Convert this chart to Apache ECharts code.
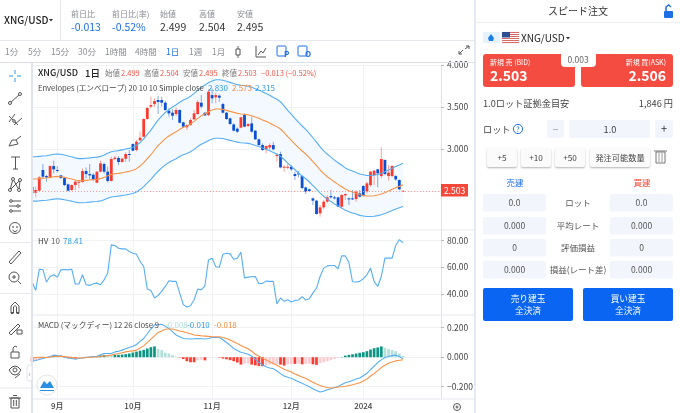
<!DOCTYPE html>
<html><head><meta charset="utf-8">
<style>html,body{margin:0;padding:0;background:#fff}#c{width:680px;height:413px}</style>
<script src="https://cdn.jsdelivr.net/npm/echarts@6/dist/echarts.min.js"></script>
</head><body><div id="c"></div>
<script>
const opens=[2.551,2.48,2.504,2.75,2.678,2.662,2.797,2.75,2.686,2.654,2.579,2.512,2.571,2.599,2.607,2.738,2.702,2.694,2.599,2.73,2.821,2.73,2.619,2.881,2.893,2.845,2.885,2.94,3.059,2.988,3.103,3.146,3.357,3.504,3.535,3.583,3.583,3.551,3.456,3.432,3.416,3.464,3.317,3.258,3.285,3.353,3.416,3.551,3.432,3.404,3.642,3.615,3.635,3.535,3.432,3.365,3.293,3.242,3.254,3.404,3.273,3.305,3.218,3.115,3.047,2.996,3.019,3.047,2.916,2.94,2.781,2.777,2.789,2.702,2.71,2.678,2.543,2.52,2.412,2.385,2.234,2.305,2.373,2.44,2.424,2.424,2.313,2.448,2.412,2.412,2.404,2.472,2.559,2.492,2.571,2.69,2.758,2.678,2.869,2.678,2.678,2.678,2.631,2.499];
const highs=[2.571,2.551,2.678,2.821,2.69,2.805,2.861,2.797,2.694,2.662,2.591,2.579,2.631,2.631,2.769,2.781,2.821,2.71,2.738,2.861,2.837,2.789,2.908,2.92,2.916,2.897,2.96,2.988,3.067,3.107,3.206,3.365,3.504,3.623,3.603,3.631,3.623,3.575,3.484,3.472,3.496,3.472,3.325,3.293,3.365,3.464,3.583,3.642,3.44,3.71,3.722,3.67,3.65,3.551,3.44,3.373,3.305,3.258,3.385,3.424,3.309,3.385,3.226,3.123,3.067,3.04,3.067,3.087,2.948,2.968,2.809,2.821,2.809,2.73,2.738,2.69,2.551,2.531,2.424,2.393,2.333,2.393,2.452,2.512,2.44,2.432,2.464,2.472,2.424,2.512,2.512,2.512,2.571,2.611,2.742,2.75,2.766,3.019,2.877,2.809,2.809,2.69,2.638,2.504];
const lows=[2.452,2.424,2.496,2.65,2.61,2.65,2.71,2.718,2.646,2.559,2.496,2.5,2.512,2.531,2.599,2.65,2.638,2.623,2.591,2.722,2.71,2.599,2.611,2.869,2.809,2.837,2.845,2.849,2.972,2.972,3.095,3.138,3.349,3.484,3.504,3.416,3.504,3.456,3.385,3.345,3.392,3.305,3.25,3.226,3.277,3.345,3.408,3.484,3.392,3.392,3.543,3.543,3.563,3.424,3.345,3.29,3.211,3.19,3.246,3.258,3.262,3.194,3.107,3.04,2.976,2.948,2.988,2.984,2.849,2.77,2.73,2.758,2.742,2.631,2.662,2.523,2.464,2.488,2.333,2.218,2.194,2.281,2.353,2.412,2.4,2.305,2.293,2.393,2.333,2.393,2.373,2.424,2.432,2.472,2.551,2.571,2.543,2.651,2.686,2.623,2.662,2.623,2.512,2.495];
const closes=[2.472,2.512,2.662,2.67,2.662,2.797,2.758,2.742,2.654,2.571,2.504,2.571,2.611,2.611,2.738,2.702,2.686,2.631,2.73,2.829,2.73,2.619,2.881,2.897,2.845,2.885,2.94,2.932,2.98,3.087,3.135,3.357,3.488,3.523,3.571,3.559,3.551,3.464,3.424,3.396,3.464,3.313,3.266,3.285,3.345,3.424,3.559,3.504,3.4,3.682,3.603,3.642,3.611,3.432,3.357,3.297,3.218,3.206,3.377,3.266,3.297,3.206,3.115,3.047,2.988,3.035,3.047,2.996,2.928,2.781,2.789,2.789,2.758,2.678,2.702,2.535,2.492,2.5,2.385,2.226,2.305,2.373,2.424,2.424,2.412,2.313,2.452,2.464,2.4,2.404,2.492,2.432,2.44,2.591,2.73,2.742,2.71,2.881,2.702,2.718,2.797,2.638,2.52,2.503];
const envMid=[2.643,2.643,2.647,2.651,2.654,2.662,2.67,2.674,2.67,2.662,2.651,2.643,2.631,2.623,2.623,2.627,2.631,2.635,2.639,2.647,2.662,2.682,2.698,2.706,2.71,2.718,2.726,2.734,2.746,2.766,2.797,2.837,2.885,2.932,2.988,3.039,3.083,3.123,3.154,3.182,3.206,3.234,3.258,3.273,3.297,3.329,3.365,3.396,3.42,3.444,3.464,3.476,3.476,3.472,3.46,3.448,3.436,3.424,3.416,3.412,3.408,3.396,3.38,3.365,3.345,3.329,3.309,3.285,3.266,3.238,3.194,3.146,3.103,3.059,3.016,2.976,2.94,2.897,2.849,2.801,2.75,2.706,2.67,2.639,2.607,2.579,2.551,2.523,2.504,2.488,2.472,2.456,2.448,2.44,2.44,2.444,2.452,2.464,2.48,2.5,2.52,2.539,2.555,2.573];
const envUpper=[2.907,2.907,2.912,2.916,2.919,2.928,2.937,2.941,2.937,2.928,2.916,2.907,2.894,2.885,2.885,2.89,2.894,2.899,2.903,2.912,2.928,2.95,2.968,2.977,2.981,2.99,2.999,3.007,3.021,3.043,3.077,3.121,3.174,3.225,3.287,3.343,3.391,3.435,3.469,3.5,3.527,3.557,3.584,3.6,3.627,3.662,3.702,3.736,3.762,3.788,3.81,3.824,3.824,3.819,3.806,3.793,3.78,3.766,3.758,3.753,3.749,3.736,3.718,3.702,3.68,3.662,3.64,3.614,3.593,3.562,3.513,3.461,3.413,3.365,3.318,3.274,3.234,3.187,3.134,3.081,3.025,2.977,2.937,2.903,2.868,2.837,2.806,2.775,2.754,2.737,2.719,2.702,2.693,2.684,2.684,2.688,2.697,2.71,2.728,2.75,2.772,2.793,2.81,2.83];
const envLower=[2.379,2.379,2.382,2.386,2.389,2.396,2.403,2.407,2.403,2.396,2.386,2.379,2.368,2.361,2.361,2.364,2.368,2.372,2.375,2.382,2.396,2.414,2.428,2.435,2.439,2.446,2.453,2.461,2.471,2.489,2.517,2.553,2.597,2.639,2.689,2.735,2.775,2.811,2.839,2.864,2.885,2.911,2.932,2.946,2.967,2.996,3.029,3.056,3.078,3.1,3.118,3.128,3.128,3.125,3.114,3.103,3.092,3.082,3.074,3.071,3.067,3.056,3.042,3.029,3.011,2.996,2.978,2.957,2.939,2.914,2.875,2.831,2.793,2.753,2.714,2.678,2.646,2.607,2.564,2.521,2.475,2.435,2.403,2.375,2.346,2.321,2.296,2.271,2.254,2.239,2.225,2.21,2.203,2.196,2.196,2.2,2.207,2.218,2.232,2.25,2.268,2.285,2.3,2.315];
const hv=[48.8,42.5,58.5,58.3,48.8,53,54.3,52.5,58,58.3,58,58.5,47.3,47.3,54.3,46.8,46.3,47.5,48,46.8,50.5,55.5,76.8,76.3,74.3,73.8,73.8,71.8,70.5,69.8,64.3,60.5,43.5,42.5,36.8,38.8,41.8,45.5,49.8,49.3,49.3,40.5,31.8,30,31,35.5,43.5,43,46,65.5,66.8,60.5,59.8,69.8,70.5,70,66,66.8,71.3,51.8,52.5,52.8,53,47.5,47.8,49.5,49.3,49.3,32.3,36.8,34.3,35.5,33.8,35,35.3,37.8,35.3,36.3,40.5,44.3,53,59.3,61,61.3,61.3,58.8,68.5,68.5,63.5,49,48.8,49.3,51.3,54.3,59.3,49.3,45.5,53,66.8,66.8,66.8,76.3,80.8,78.41];
const macd=[-.027,-.022,-.016,-.009,-.002,.005,.014,.011,.009,.002,-.005,-.009,-.014,-.009,-.005,-.001,.002,.005,.007,.016,.025,.025,.025,.036,.041,.048,.057,.066,.075,.086,.107,.127,.159,.191,.218,.22,.223,.209,.195,.173,.15,.139,.127,.125,.123,.125,.127,.125,.123,.127,.134,.134,.134,.118,.1,.08,.059,.045,.034,.027,.02,.007,-.014,-.036,-.052,-.064,-.073,-.077,-.093,-.111,-.127,-.136,-.143,-.155,-.166,-.177,-.189,-.2,-.214,-.225,-.236,-.23,-.22,-.214,-.205,-.198,-.184,-.173,-.166,-.157,-.148,-.141,-.125,-.109,-.084,-.061,-.036,-.018,-.002,.005,.011,.014,.005,-.01];
const signal=[-.005,-.002,0,-.001,-.002,.001,.005,.006,.007,.005,.002,-.001,-.005,-.005,-.005,-.002,0,.001,.002,.005,.009,.011,.014,.02,.025,.03,.036,.041,.043,.048,.063,.077,.1,.123,.145,.168,.178,.189,.191,.191,.184,.177,.172,.166,.159,.151,.148,.145,.143,.141,.139,.139,.139,.133,.127,.116,.105,.093,.08,.068,.057,.041,.02,.007,-.007,-.018,-.03,-.043,-.055,-.068,-.082,-.091,-.1,-.114,-.123,-.134,-.143,-.157,-.17,-.182,-.191,-.2,-.205,-.209,-.207,-.202,-.2,-.198,-.191,-.186,-.18,-.173,-.161,-.148,-.127,-.111,-.091,-.07,-.055,-.041,-.032,-.025,-.02,-.018];
const hist=[-.03,-.022,-.016,-.008,0,.004,.009,.006,.002,-.003,-.007,-.008,-.009,-.004,-.002,.001,.002,.004,.005,.011,.016,.014,.011,.016,.016,.018,.021,.025,.032,.038,.044,.05,.059,.068,.073,.055,.048,.03,.025,.014,.005,-.002,-.012,-.027,-.034,-.034,-.02,-.017,-.021,-.002,-.001,0,-.003,-.009,-.014,-.02,-.027,-.036,-.05,-.043,-.042,-.05,-.055,-.059,-.061,-.055,-.05,-.048,-.045,-.05,-.057,-.048,-.045,-.045,-.043,-.048,-.045,-.043,-.048,-.052,-.041,-.034,-.027,-.018,-.011,-.005,.002,.011,.016,.02,.025,.03,.034,.041,.052,.061,.066,.073,.064,.055,.048,.041,.025,.008];
const monthTickIndex=[7,28,50,72,92];
const monthTickLabel=['9月','10月','11月','12月','2024'];
const lastPrice=2.503;
const priceTicks=[3,3.5,4];
const hvTicks=[40,60,80];
const macdTicks=[-0.2,0,0.2];

const F='"Noto Sans CJK JP","Noto Sans",sans-serif';
const RED='#fa3a2e',BLUE='#0b4fd2',LINE='#55aef3',ORG='#fa9246';
const at=a=>a.map((v,i)=>[i,v]);
const g=[];
const T=(x,y,t,o={})=>g.push({type:'text',z:o.z||105,x,y,silent:true,style:{text:t,fill:o.c||'#333',font:(o.w||'400')+' '+(o.s||9)+'px '+F,textAlign:o.a||'left',textVerticalAlign:'middle',textBaseline:'middle'}});
const R=(x,y,w,h,f,o={})=>g.push({type:'rect',z:o.z||99,silent:true,shape:{x,y,width:w,height:h,r:o.r||0},style:{fill:f,stroke:o.st||null,lineWidth:o.lw||1,shadowColor:o.sh||'transparent',shadowBlur:o.sh?2:0,shadowOffsetY:o.sh?1:0}});
const L=(a,b,c,d,s='#e6e8ee',w=1)=>g.push({type:'line',z:100,silent:true,shape:{x1:a,y1:b,x2:c,y2:d},style:{stroke:s,lineWidth:w}});
const C=(x,y,r,o={})=>g.push({type:'circle',z:100,silent:true,shape:{cx:x,cy:y,r},style:{fill:o.f||'transparent',stroke:o.st||'#444',lineWidth:o.lw||1}});
const P=(pts,s='#444',w=1,fill)=>g.push({type:fill?'polygon':'polyline',z:100,silent:true,shape:{points:pts},style:fill?{fill}:{stroke:s,lineWidth:w,fill:'transparent'}});

// frames
L(0,40.5,475,40.5);L(60.5,0,60.5,40);
L(0,62.5,475,62.5,'#dcdfe8',1.2);
L(32,63,32,413,'#dfe3ee',2);
L(475,0,475,413,'#e4e9f4',2);
L(33,230,441,230,'#e6e8ee',1.2);L(33,315,441,315,'#e6e8ee',1.2);L(33,399,441,399,'#e6e8ee',1.2);
L(441,230,475,230,'#e6e8ee',1);L(441,315,475,315,'#e6e8ee',1);L(441,399,475,399,'#e6e8ee',1);
L(0,242.5,31,242.5);L(0,293.5,31,293.5);L(0,388,31,388);

// top bar
T(4,20,'XNG/USD',{s:10,c:'#222',w:'500'});
P([[49,19],[53,19],[51,21.5]],null,0,'#333');
[[71,'前日比','-0.013',1],[112,'前日比(率)','-0.52%',1],[160,'始値','2.499',0],[199,'高値','2.504',0],[237,'安値','2.495',0]].forEach(([x,a,b,bl])=>{
 T(x,14,a,{s:8,c:'#8b8e95'});T(x,27,b,{s:10.5,c:bl?'#1d6fe6':'#333'});});
[[5,'1分'],[28,'5分'],[51,'15分'],[78,'30分'],[105,'1時間'],[135,'4時間'],[166,'1日'],[189,'1週'],[212,'1月']].forEach(([x,t])=>T(x,52,t,{s:8.5,c:t==='1日'?'#1d6fe6':'#8b8e95'}));
// timeframe icons
L(238,46,238,58,'#666');R(236,49,4,6,'#fff',{st:'#555',z:100});
P([[256,46],[256,57],[266,57]],'#555');P([[258,55],[261,51],[263,53],[266,48]],'#555');
[[281,'P'],[302,'O']].forEach(([x,t])=>{R(x-4,46,9,10,'#fff',{st:'#1d6fe6',z:100,r:1});T(x+3,54,t,{s:8,c:'#1d6fe6',w:'700'});});
P([[459,54],[463,50]],'#555');P([[465,49],[469,46]],'#555');P([[466,46],[469,46],[469,49]],'#555');P([[459,51],[459,54],[462,54]],'#555');

// legend rows
T(38,73,'XNG/USD',{s:9,c:'#222',w:'500'});T(85,73,'1日',{s:9.5,c:'#222',w:'500'});
[[105,'始値',121,'2.499'],[144,'高値',160,'2.504'],[183,'安値',199,'2.495'],[222,'終値',238,'2.503']].forEach(([x,a,x2,b])=>{T(x,73,a,{s:7.5,c:'#777'});T(x2,73,b,{s:7.5,c:'#f55347'});});
T(261,73,'−0.013 (−0.52%)',{s:7.5,c:'#f55347'});
T(38,88,'Envelopes (エンベロープ) 20 10 10 Simple close',{s:7.6,c:'#444'});
T(208,88,'2.830',{s:8,c:'#2f9be8'});T(232,88,'2.573',{s:8,c:'#f98b3a'});T(255,88,'2.315',{s:8,c:'#2f9be8'});
T(38,240.7,'HV',{s:8,c:'#444'});T(51,240.7,'10',{s:8,c:'#666'});T(63,240.7,'78.41',{s:8,c:'#2f9be8'});
T(38,325,'MACD (マックディー) 12 26 close 9',{s:7.7,c:'#444'});
T(165,325,'-0.008',{s:8,c:'#b4e0da'});T(187,325,'-0.010',{s:8,c:'#2f9be8'});T(214,325,'-0.018',{s:8,c:'#f98b3a'});

// price tag
R(441,184,27,12.5,'#f5483a',{z:101});
T(454.5,190.5,'2.503',{s:8.5,c:'#fff',a:'center'});

// left tools
const I='#555';
L(15,70,15,74,'#2f9be8');L(15,78,15,82,'#2f9be8');L(9,76,13,76,'#2f9be8');L(17,76,21,76,'#2f9be8');
L(10,103,20,94,I);C(10,103,1.5,{f:'#fff',st:I});C(20,94,1.5,{f:'#fff',st:I});
L(9,116,18,125,I);L(9,122,15,114,I);L(14,125,22,118,I);C(14,121,1.3,{f:'#fff',st:I});
P([[9,146],[12,140],[16,140],[18,144],[9,146]],I);L(16,140,21,136,I);
L(11,157,20,157,I);L(15.5,157,15.5,169,I);L(13,169,18,169,I);
P([[10,190],[13,179],[19,190],[20,180],[10,190]],I);C(10,190,1.5,{f:'#fff',st:I});C(13,179,1.5,{f:'#fff',st:I});C(19,190,1.5,{f:'#fff',st:I});C(20,180,1.5,{f:'#fff',st:I});
[201,206,211].forEach((y,i)=>{L(9,y,21,y,I);C(i%2?18:11,y,1.3,{f:'#fff',st:I});});
C(15,228,5.5,{st:I});C(13,227,.5,{st:I});C(17,227,.5,{st:I});P([[12.5,230],[15,232],[17.5,230]],I);
P([[9,262],[19,251],[21,253],[11,264],[9,262]],I);
C(14,277,5,{st:I});L(18,281,21,284,I);L(12,277,16,277,I);L(14,275,14,279,I);
P([[11,313],[11,306],[15,302],[19,306],[19,313]],I);P([[13.5,313],[13.5,307],[15,305.5],[16.5,307],[16.5,313]],I);L(11,313,13.5,313,I,2);L(16.5,313,19,313,I,2);
P([[9,333],[18,324],[20,326],[11,335],[9,333]],I);R(17,330,5,4,'#fff',{st:I,z:100});
R(11,352,8,6,'#fff',{st:I,z:100});P([[13,352],[13,348],[15,346],[17,347]],I);
P([[9,370],[12,367],[15,366],[18,367],[21,370],[18,374],[15,375],[12,374],[9,370]],I);C(15,370,2,{st:I});L(15,378,20,374,I);
R(11,398,8,10,'#fff',{st:I,z:100});L(9,398,21,398,I);L(13,395.5,17,395.5,I);L(13.7,400,13.7,406,I);L(16.3,400,16.3,406,I);
// collapse + logo
R(27,365,5,16,'#fff',{st:'#e3e5ea',z:100,r:2});T(29.5,373,'‹',{s:7,c:'#888',a:'center'});
C(47,385,10,{f:'#fff',st:'#e4e6ea'});
P([[40,388],[44,381],[47,384],[50,381],[54,388]],null,0,'#2a8fe0');
P([[40,390],[54,390],[54,391],[40,391]],null,0,'#2a8fe0');
// gear
C(457,407,3.5,{st:'#555'});C(457,407,1,{st:'#555'});

// right panel
T(578,11,'スピード注文',{s:10,c:'#333',a:'center'});
R(664,11,9,7,'#1d6fe6',{z:100,r:1});P([[666,11],[666,7],[668.5,5],[671,7]],'#1d6fe6',1.5);
L(476,22.5,680,22.5,'#eef0f4',1);
R(483,32,17,11,'#e7f3fc',{z:100});P([[491,34],[494,38],[493,41],[489,41],[488,38]],null,0,'#1d7fe6');
R(502,32,17,11,'#fff',{z:100,st:'#d8d8d8',lw:.4});
[32,34,36,38,40,42].forEach(y=>R(502,y,17,.9,'#d45a5a',{z:100}));
R(502,32,8,5.5,'#2d4f91',{z:101});
T(521,38,'XNG/USD',{s:10,c:'#222'});P([[566,37],[570,37],[568,39.5]],null,0,'#333');
R(483,54,92,33,'#f44c40',{z:100,r:3});R(581,54,92,33,'#f44c40',{z:100,r:3});
R(561,50,35,17,'#fff',{z:101,r:4});
T(578,60,'0.003',{s:8.5,c:'#666',a:'center'});
T(490,62,'新規 売 (BID)',{s:7,c:'#fff'});T(666,62,'新規 買(ASK)',{s:7,c:'#fff',a:'right'});
T(490,76,'2.503',{s:14,c:'#fff',w:'700'});T(666,76,'2.506',{s:14,c:'#fff',w:'700',a:'right'});
T(483,104,'1.0ロット証拠金目安',{s:9.2,c:'#444'});T(673,104,'1,846 円',{s:9.2,c:'#444',a:'right'});
T(483,130,'ロット',{s:9.2,c:'#444'});C(518,129,4.6,{st:'#1d6fe6'});T(518,129.5,'?',{s:7,c:'#1d6fe6',a:'center'});
R(547,120,17,18,'#f2f5fb',{z:100,r:2});R(569,120,81,18,'#f2f5fb',{z:100,r:2});R(655,120,18,18,'#f2f5fb',{z:100,r:2});
T(555.5,129,'−',{s:10,c:'#999',a:'center'});T(610,130,'1.0',{s:9.2,c:'#444',a:'center'});T(664,129,'+',{s:11,c:'#333',a:'center'});
[[487,30,'+5'],[521,30,'+10'],[555,30,'+50'],[590,60,'発注可能数量']].forEach(([x,w,t])=>{R(x,148,w,19,'#fbfbfc',{z:100,r:2,sh:'rgba(0,0,0,.3)'});T(x+w/2,158,t,{s:8.2,c:'#444',a:'center'});});
R(656,152,9,11,'#fff',{st:'#777',z:100});L(654,151,667,151,'#777');L(659,153,659,162,'#999');L(662,153,662,162,'#999');
T(515,183,'売建',{s:8.5,c:'#1d6fe6',a:'center'});T(642,183,'買建',{s:8.5,c:'#f5483a',a:'center'});
[[194,'0.0','ロット','0.0'],[217,'0.000','平均レート','0.000'],[239,'0','評価損益','0'],[261,'0.000','損益(レート差)','0.000']].forEach(([y,a,m,b])=>{
 R(483,y,63,17.5,'#f2f5fb',{z:100,r:2});R(610,y,63,17.5,'#f2f5fb',{z:100,r:2});
 T(514.5,y+9,a,{s:8.5,c:'#555',a:'center'});T(641.5,y+9,b,{s:8.5,c:'#555',a:'center'});T(578,y+9,m,{s:8.5,c:'#555',a:'center'});});
[[483,'売り建玉'],[583,'買い建玉']].forEach(([x,t])=>{R(x,288,90,33,'#0a66f2',{z:100,r:2});T(x+45,299,t,{s:8.7,c:'#fff',a:'center'});T(x+45,311,'全決済',{s:8.7,c:'#fff',a:'center'});});

const xa=(gi,show)=>({type:'value',gridIndex:gi,min:0.25,max:113.58,
 axisLine:{show:false},
 axisTick:{show:false,customValues:monthTickIndex},
 splitLine:{show:true,lineStyle:{color:'#f1f2f5',width:1}},
 axisLabel:{show,customValues:monthTickIndex,margin:3,fontSize:8,fontWeight:500,color:'#444',fontFamily:F,hideOverlap:false,
   formatter:v=>monthTickLabel[monthTickIndex.indexOf(Math.round(v))]||''}});
const ya=(gi,min,max,ticks,dp,lineTicks)=>({type:'value',gridIndex:gi,position:'right',min,max,
 axisLine:{show:true,lineStyle:{color:'#e0e2e8'}},
 axisTick:{show:true,length:3,customValues:lineTicks||ticks,lineStyle:{color:'#bbb'}},
 splitLine:{show:true,lineStyle:{color:'#f1f2f5'}},
 axisLabel:{show:true,customValues:ticks,margin:6,fontSize:8.5,color:'#444',fontFamily:F,formatter:v=>v<0?'−'+(-v).toFixed(dp):v.toFixed(dp)}});

const candle=(p,api)=>{
 const i=api.value(0),o=api.value(1),c=api.value(2),l=api.value(3),h=api.value(4);
 const col=c>=o?RED:BLUE;
 const a=api.coord([i,o]),b=api.coord([i,c]),t=api.coord([i,h]),u=api.coord([i,l]);
 const top=Math.min(a[1],b[1]),ht=Math.max(1,Math.abs(a[1]-b[1]));
 return {type:'group',children:[
  {type:'line',shape:{x1:a[0],y1:t[1],x2:a[0],y2:u[1]},style:{stroke:col,lineWidth:.8,opacity:.6}},
  {type:'rect',shape:{x:a[0]-1.4,y:top,width:2.8,height:ht},style:{fill:col}}]};
};
const band=(p,api)=>{
 const pts=[];envUpper.forEach((v,i)=>pts.push(api.coord([i,v])));
 for(let i=envLower.length-1;i>=0;i--)pts.push(api.coord([i,envLower[i]]));
 return {type:'polygon',shape:{points:pts},style:{fill:'#f3f9ff'}};
};
const ln=(data,color,xi,yi,z=5,w=1.1)=>({type:'line',data:at(data),xAxisIndex:xi,yAxisIndex:yi,showSymbol:false,symbol:'none',silent:true,z,lineStyle:{color,width:w},animation:false,clip:true});

const chart=echarts.init(document.getElementById('c'),null,{renderer:'canvas'});
chart.setOption({animation:false,backgroundColor:'#fff',
 textStyle:{fontFamily:F},
 grid:[{left:33,width:408,top:65,height:168},{left:33,width:408,top:230,height:85},{left:33,width:408,top:315,height:84}],
 xAxis:[xa(0,false),xa(1,false),xa(2,true)],
 yAxis:[ya(0,2,4,priceTicks,3,[2.5,3,3.5,4]),ya(1,24,88,hvTicks,2),ya(2,-0.283,0.286,macdTicks,3)],
 graphic:{elements:g},
 series:[
  {type:'custom',xAxisIndex:0,yAxisIndex:0,data:[[1,3]],renderItem:band,silent:true,z:2,clip:true},
  {type:'custom',name:'XNG/USD',xAxisIndex:0,yAxisIndex:0,clip:true,silent:true,z:3,
   data:closes.map((c,i)=>[i,opens[i],c,lows[i],highs[i]]),encode:{x:0,y:[1,2,3,4]},renderItem:candle,
   markLine:{silent:true,symbol:'none',animation:false,label:{show:false},lineStyle:{color:'#f99',width:1,type:[1,2]},data:[{yAxis:lastPrice}]}},
  ln(envUpper,LINE,0,0),ln(envMid,ORG,0,0),ln(envLower,LINE,0,0),
  ln(hv,LINE,1,1),
  {type:'bar',data:at(hist),xAxisIndex:2,yAxisIndex:2,barWidth:2.7,silent:true,z:3,animation:false,
   itemStyle:{color:p=>{const i=p.dataIndex,v=hist[i],pr=i?hist[i-1]:0;
     return v>=0?(v>=pr?'#0c9583':'#b3dfd9'):(v<=pr?'#fb3a30':'#fdcbd0');}}},
  ln(macd,LINE,2,2),ln(signal,ORG,2,2)
 ]});
</script></body></html>
